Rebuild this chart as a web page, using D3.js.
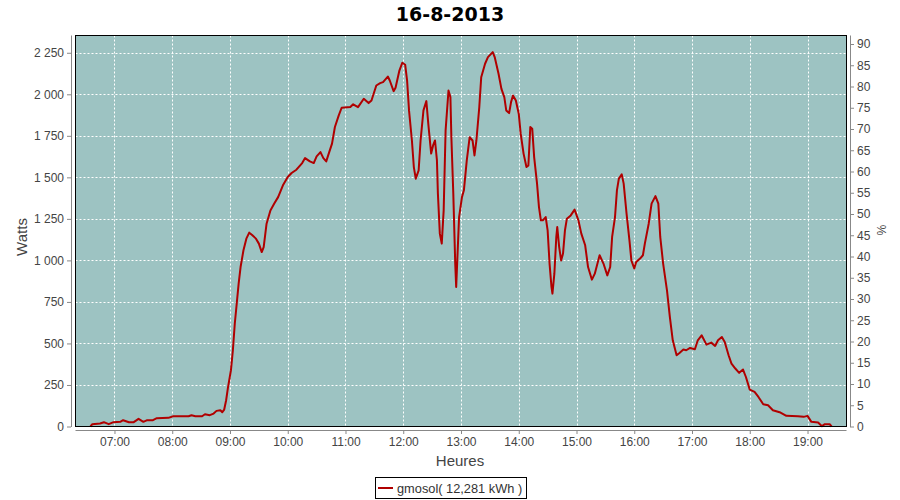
<!DOCTYPE html>
<html><head><meta charset="utf-8">
<script src="https://cdn.jsdelivr.net/npm/d3@7"></script>
<style>
html,body{margin:0;padding:0;background:#fff;}
svg{display:block;}
text{font-family:"Liberation Sans",Arial,sans-serif;}
</style></head>
<body>
<svg id="c" width="900" height="500"></svg>
<script>
// ---- data ----
const title = "16-8-2013";
const seriesName = "gmosol( 12,281 kWh )";
const times = ["6:35","6:37","6:45","6:49","6:54","6:59","7:06","7:09","7:15","7:20","7:25","7:30","7:34","7:40","7:44","7:56",
"8:01","8:17","8:20","8:24","8:31","8:34","8:39","8:43","8:46","8:50","8:52","8:54","8:56","8:58",
"9:01","9:03","9:05","9:07","9:09","9:11","9:14","9:17","9:20","9:23","9:27","9:30","9:33","9:35","9:38","9:42","9:46","9:50","9:55",
"10:00","10:04","10:09","10:15","10:18","10:23","10:27","10:30","10:34","10:37","10:40","10:42","10:46","10:49","10:53","10:56",
"11:05","11:08","11:13","11:19","11:24","11:27","11:32","11:36","11:39","11:44","11:46","11:50","11:52","11:56","11:59",
"12:02","12:04","12:06","12:09","12:11","12:13","12:16","12:18","12:21","12:24","12:26","12:29","12:31","12:33","12:35","12:36","12:38","12:40","12:42","12:44","12:47","12:49","12:50","12:52","12:54","12:55","12:56","12:58",
"13:01","13:03","13:06","13:09","13:12","13:14","13:16","13:19","13:21","13:25","13:28","13:33","13:35","13:39","13:42","13:45","13:47","13:50","13:52","13:54","13:57",
"14:00","14:02","14:05","14:08","14:10","14:12","14:14","14:16","14:19","14:21","14:23","14:25","14:28","14:30","14:32","14:34","14:35","14:37","14:39","14:40","14:42","14:44","14:46","14:48","14:50","14:54","14:58",
"15:02","15:05","15:09","15:12","15:16","15:19","15:24","15:28","15:32","15:35","15:37","15:40","15:42","15:44","15:47","15:49","15:52","15:55","15:57",
"16:00","16:02","16:06","16:09","16:11","16:15","16:18","16:22","16:25","16:27","16:30","16:34","16:37","16:40","16:44","16:47","16:51","16:54","16:58",
"17:03","17:06","17:10","17:15","17:20","17:24","17:27","17:31","17:34","17:38","17:41","17:45","17:49","17:53","17:56",
"18:00","18:05","18:09","18:14","18:19","18:24","18:31","18:38","18:50","18:56",
"19:00","19:04","19:11","19:15","19:18","19:23","19:25"];
const watts = [0,14,18,26,14,26,28,38,26,26,46,28,38,38,50,52,
62,62,68,62,62,74,68,78,94,98,86,102,158,238,
339,459,620,740,860,960,1061,1131,1167,1153,1131,1101,1050,1080,1221,1301,1342,1381,1452,
1502,1526,1546,1586,1616,1596,1586,1626,1652,1616,1596,1632,1703,1803,1873,1919,
1923,1940,1923,1973,1947,1963,2053,2067,2073,2107,2083,2019,2039,2143,2190,
2178,2083,1903,1722,1562,1492,1542,1722,1903,1959,1823,1643,1692,1722,1602,1402,1161,1101,1301,1783,2023,1983,1742,1402,981,840,981,1261,
1381,1422,1602,1742,1722,1632,1722,1923,2103,2184,2224,2254,2224,2124,2033,1983,1903,1887,1953,1993,1963,
1883,1763,1643,1562,1572,1803,1793,1622,1462,1321,1241,1241,1261,1181,981,840,800,920,1141,1201,1080,1000,1041,1181,1251,1271,1306,
1241,1161,1091,960,884,920,1031,981,910,960,1141,1261,1422,1492,1518,1462,1282,1121,1000,
951,990,1011,1031,1101,1221,1342,1387,1342,1141,981,820,659,519,429,443,463,459,473,
465,519,549,493,505,485,519,539,509,429,379,349,323,343,298,
222,208,178,134,128,98,86,64,62,58,
64,28,24,2,14,14,0];
const hourTicks = ["07:00","08:00","09:00","10:00","11:00","12:00","13:00","14:00","15:00","16:00","17:00","18:00","19:00"];
const wattTicks = [0,250,500,750,1000,1250,1500,1750,2000,2250];
const pctTicks = [0,5,10,15,20,25,30,35,40,45,50,55,60,65,70,75,80,85,90];
const xLabel = "Heures", yLabel = "Watts", y2Label = "%";

// ---- layout ----
const toMin = s => { const [h,m] = s.split(":").map(Number); return h*60+m; };
const P = {l:75.5, r:846.5, t:35.5, b:426.5};
const svg = d3.select("#c");
const x = d3.scaleLinear().domain([379.5, 1180.5]).range([P.l, P.r]);
const y = d3.scaleLinear().domain([0, 2354]).range([P.b, P.t]);
const y2 = d3.scaleLinear().domain([0, 92]).range([P.b, P.t]);
const fmtW = v => d3.format(",")(v).replace(/,/g, " ");

svg.append("text").attr("x", 450).attr("y", 21).attr("text-anchor","middle")
  .style("font-family","'DejaVu Sans',sans-serif").style("font-weight","bold").style("font-size","19px")
  .attr("fill","#000").text(title);

svg.append("rect").attr("x",P.l).attr("y",P.t).attr("width",P.r-P.l).attr("height",P.b-P.t).attr("fill","#9dc3c2");

// grid
const grid = svg.append("g").attr("stroke","#fff").attr("stroke-width",1).attr("stroke-dasharray","2,2");
wattTicks.filter(v=>v>0).forEach(v=>{
  const yy = Math.round(y(v))+0.5;
  grid.append("line").attr("x1",P.l).attr("x2",P.r).attr("y1",yy).attr("y2",yy);
});
hourTicks.forEach(t=>{
  const xx = Math.round(x(toMin(t)))+0.5;
  grid.append("line").attr("x1",xx).attr("x2",xx).attr("y1",P.t).attr("y2",P.b);
});

// line
const pts = times.map((t,i)=>[toMin(t), watts[i]]);
svg.append("path").datum(pts).attr("fill","none").attr("stroke","#b00000").attr("stroke-width",2)
  .attr("stroke-linejoin","round")
  .attr("d", d3.line().x(d=>x(d[0])).y(d=>y(d[1])));

svg.append("rect").attr("x",P.l).attr("y",P.t).attr("width",P.r-P.l).attr("height",P.b-P.t)
  .attr("fill","none").attr("stroke","#000").attr("stroke-width",1);

// left axis
const yAxis = d3.axisLeft(y).tickValues(wattTicks).tickFormat(fmtW).tickSize(4).tickPadding(3);
const gy = svg.append("g").attr("transform","translate(71,0)").call(yAxis);
gy.select(".domain").attr("d", `M0.5,${P.t}V${P.b+0.5}`).attr("stroke","#888");
gy.selectAll(".tick line").attr("stroke","#888");
gy.selectAll(".tick text").attr("fill","#444").style("font-family","'Liberation Sans',Arial,sans-serif").style("font-size","12px");

// right axis
const y2Axis = d3.axisRight(y2).tickValues(pctTicks).tickSize(4).tickPadding(3);
const gy2 = svg.append("g").attr("transform","translate(850,0)").call(y2Axis);
gy2.select(".domain").attr("d", `M0.5,${P.t}V${P.b+0.5}`).attr("stroke","#888");
gy2.selectAll(".tick line").attr("stroke","#888");
gy2.selectAll(".tick text").attr("fill","#444").style("font-family","'Liberation Sans',Arial,sans-serif").style("font-size","12px");

// bottom axis
const xAxis = d3.axisBottom(x).tickValues(hourTicks.map(toMin)).tickFormat((d,i)=>hourTicks[i]).tickSize(4).tickPadding(3);
const gx = svg.append("g").attr("transform","translate(0,430)").call(xAxis);
gx.select(".domain").attr("d", `M${P.l},0.5H${P.r}`).attr("stroke","#888");
gx.selectAll(".tick line").attr("stroke","#888");
gx.selectAll(".tick text").attr("fill","#444").style("font-family","'Liberation Sans',Arial,sans-serif").style("font-size","12px");

// axis labels
svg.append("text").attr("x",460).attr("y",466).attr("text-anchor","middle").attr("fill","#444").style("font-size","15px").text(xLabel);
svg.append("text").attr("transform","translate(27,237) rotate(-90)").attr("text-anchor","middle").attr("fill","#444").style("font-size","15px").text(yLabel);
svg.append("text").attr("transform","translate(877,230) rotate(90)").attr("text-anchor","middle").attr("fill","#444").style("font-size","12px").text(y2Label);

// legend
const lg = svg.append("g");
lg.append("rect").attr("x",375.5).attr("y",477.5).attr("width",151).attr("height",21).attr("fill","#fff").attr("stroke","#000");
lg.append("line").attr("x1",378).attr("x2",393).attr("y1",488).attr("y2",488).attr("stroke","#b00000").attr("stroke-width",2);
lg.append("text").attr("x",397).attr("y",493).attr("fill","#333").style("font-size","12.8px").text(seriesName);
</script>
</body></html>
